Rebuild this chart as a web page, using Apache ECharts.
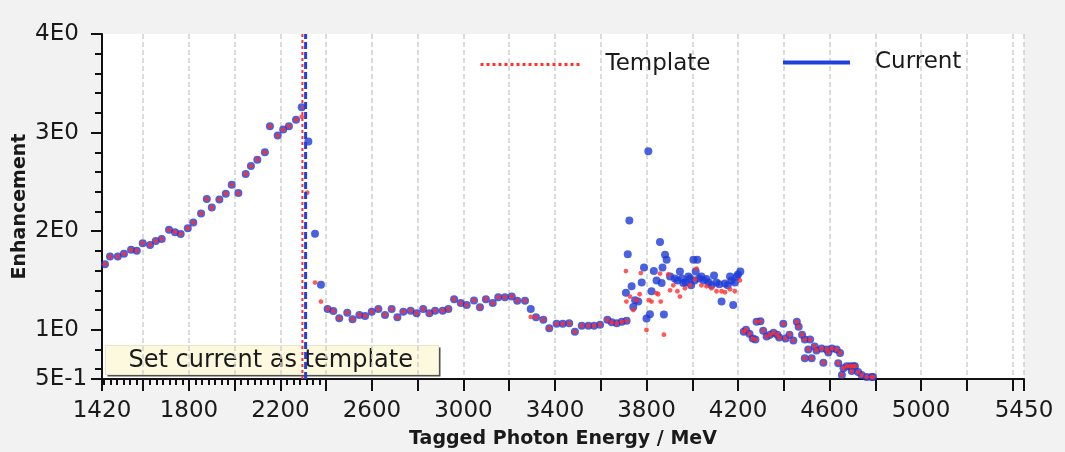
<!DOCTYPE html>
<html>
<head>
<meta charset="utf-8">
<script src="https://cdn.jsdelivr.net/npm/echarts@6/dist/echarts.min.js"></script>
<style>
html,body{margin:0;padding:0;background:#f2f2f2;}
#chart{width:1065px;height:452px;}
</style>
</head>
<body>
<div id="chart"></div>
<script>
// ---- data ----
// points where Template and Current coincide
var sharedEnergy = [1433,1455,1489,1516,1547,1572,1598,1630,1655,1681,1713,1739,1764,1795,1819,1853,1878,1900,1933,1961,1987,2016,2048,2071,2099,2132,2154,2188,2212,2237,2268,
  2406,2431,2457,2492,2515,2545,2570,2599,2628,2657,2686,2711,2737,2769,2795,2824,2851,2876,2909,2934,2959,2988,3014,3046,3072,3098,3128,3152,3181,3211,3235,3269,
  3317,3349,3375,3407,3434,3462,3487,3517,3546,3571,3597,3629,3648,3670,3692,3713,
  4225,4235,4250,4264,4276,4281,4298,4310,4325,4340,4355,4372,4380,4398,4408,4425,4442,4457,4465,4480,4492,4492,4507,4515,4522,4535,4543,4565,4573,4588,4595,4610,4631,4638,4646,4654,4661,4675,4690,4697,4704,4711,4725,4740,4762,4784,4790];
var sharedValue = [1.665,1.742,1.742,1.77,1.81,1.80,1.878,1.86,1.90,1.92,2.013,1.99,1.97,2.03,2.087,2.18,2.325,2.24,2.32,2.38,2.47,2.386,2.58,2.66,2.725,2.80,3.063,2.97,3.03,3.063,3.13,
  1.21,1.19,1.116,1.173,1.106,1.15,1.14,1.183,1.21,1.15,1.21,1.126,1.183,1.193,1.167,1.21,1.167,1.193,1.193,1.21,1.31,1.27,1.25,1.296,1.228,1.31,1.27,1.33,1.33,1.337,1.293,1.293,
  1.126,1.10,1.015,1.06,1.06,1.065,0.98,1.04,1.04,1.04,1.05,1.10,1.075,1.065,1.08,1.09,
  0.98,1.0,0.96,0.91,0.90,1.08,1.085,0.99,0.93,0.95,0.97,0.95,0.92,1.06,0.91,0.95,0.89,1.08,1.03,0.95,0.90,0.71,0.80,0.90,0.71,0.83,0.79,0.81,0.665,0.80,0.77,0.81,0.80,0.66,0.765,0.54,0.61,0.63,0.63,0.58,0.63,0.63,0.57,0.54,0.52,0.52,0.52];
// Current-only points
var currentEnergy = [2293,2322,2351,2377,3294,
  3710,3718,3725,3735,3742,3750,3764,3779,3789,3800,3808,3815,3822,3832,3844,3859,3866,3870,3876,3881,3888,3903,3924,3935,3946,3955,3961,3972,3983,3990,3995,4005,4010,4015,4022,4030,4040,4050,4062,4072,4084,4095,4106,4118,4128,4143,4155,4165,4172,4179,4186,4194,4200,4210];
var currentValue = [3.256,2.91,1.973,1.455,1.21,
  1.375,1.766,2.108,1.44,1.23,1.30,1.285,1.48,1.63,1.115,2.81,1.157,1.39,1.595,1.50,1.89,1.473,1.63,1.155,1.76,1.71,1.54,1.52,1.50,1.59,1.52,1.473,1.48,1.54,1.52,1.45,1.71,1.50,1.59,1.71,1.52,1.54,1.50,1.515,1.48,1.45,1.55,1.48,1.46,1.285,1.47,1.45,1.54,1.50,1.25,1.48,1.54,1.56,1.59];
// Template-only points
var templateEnergy = [2293,2317,2351,2377,3294,
  3710,3712,3728,3742,3757,3770,3775,3800,3811,3822,3844,3851,3859,3862,3876,3895,3903,3917,3935,3946,3968,3990,4012,4019,4040,4062,4084,4106,4128,4143,4165,4186,4208];
var templateValue = [3.16,2.39,1.478,1.285,1.13,
  1.595,1.285,1.336,1.20,1.30,1.36,1.575,0.998,1.30,1.285,1.37,1.36,1.57,1.285,0.95,1.56,1.40,1.45,1.39,1.336,1.42,1.45,1.51,1.62,1.45,1.44,1.42,1.39,1.39,1.38,1.41,1.39,1.50];
// edge markers (MeV)
var templateEdge = 2296;
var currentEdge = 2310;
// axes
var xMajorTicks = [1420,1600,1800,2000,2200,2400,2600,2800,3000,3200,3400,3600,3800,4000,4200,4400,4600,4800,5000,5200,5400,5450];
var xLabelValues = [1420,1800,2200,2600,3000,3400,3800,4200,4600,5000,5450];
var yLabelValues = [0.5,1,2,3,4];
var yLabelTexts = ['5E-1','1E0','2E0','3E0','4E0'];
var yMajorTicks = [0.5,1,2,3,4];
var yMinorTicks = [0.6,0.8,1.2,1.4,1.6,1.8,2.2,2.4,2.6,2.8,3.2,3.4,3.6,3.8];

// ---- build ----
function zip(a,b){var r=[];for(var i=0;i<a.length;i++)r.push([a[i],b[i]]);return r;}
var currentPts = zip(sharedEnergy,sharedValue).concat(zip(currentEnergy,currentValue));
var templatePts = zip(sharedEnergy,sharedValue).concat(zip(templateEnergy,templateValue));
var xMinorTicks = [];
for (var k=-6;k<=27;k++){ if(k%7!==0){ var v=1600+k*200/7; if(v>1420&&v<5450) xMinorTicks.push(+v.toFixed(3)); } }

var FONT='DejaVu Sans';
var black='#111';
var txt='#1a1a1a';
var hiddenSym={color:'rgba(0,0,0,0)',borderColor:'rgba(0,0,0,0)',borderWidth:0,opacity:0};
var chart = echarts.init(document.getElementById('chart'), null, {renderer:'canvas'});
chart.setOption({
  animation:false,
  backgroundColor:'#f2f2f2',
  textStyle:{fontFamily:FONT},
  grid:{left:102,right:41,top:34,bottom:73,show:true,backgroundColor:'#ffffff',borderWidth:0,
        containLabel:false,outerBoundsMode:'none'},
  legend:[
    {data:['Template'],left:479,top:53,padding:0,itemWidth:99,itemHeight:14,
     textStyle:{fontFamily:FONT,fontSize:23,color:txt,padding:[0,0,0,21]},
     itemStyle:hiddenSym,
     lineStyle:{color:'#ff3030',width:3,type:[3,3]},selectedMode:false},
    {data:['Current'],left:781,top:51,padding:0,itemWidth:67,itemHeight:14,
     textStyle:{fontFamily:FONT,fontSize:23,color:txt,padding:[0,0,0,20]},
     itemStyle:hiddenSym,
     lineStyle:{color:'#2040d8',width:4,type:'solid'},selectedMode:false}
  ],
  xAxis:[
    {type:'value',min:1420,max:5450,position:'bottom',
     name:'Tagged Photon Energy / MeV',nameLocation:'middle',nameGap:51,
     nameTextStyle:{fontFamily:FONT,fontSize:19,fontWeight:'bold',color:txt},
     axisLine:{show:true,onZero:false,lineStyle:{color:black,width:2}},
     axisTick:{show:true,inside:false,length:12,customValues:xMajorTicks,lineStyle:{color:black,width:2}},
     axisLabel:{show:true,customValues:xLabelValues,fontFamily:FONT,fontSize:23,color:txt,margin:21,
       formatter:function(v){return String(v);}},
     splitLine:{show:true,lineStyle:{color:'#cfcfcf',width:1.5,type:[5,3]}}},
    {type:'value',min:1420,max:5450,position:'bottom',
     axisLine:{show:false},
     axisTick:{show:true,length:6,customValues:xMinorTicks,lineStyle:{color:black,width:2}},
     axisLabel:{show:false},splitLine:{show:false}}
  ],
  yAxis:[
    {type:'value',min:0.5,max:4,position:'left',
     name:'Enhancement',nameLocation:'middle',nameGap:72,nameRotate:90,nameMoveOverlap:false,
     nameTextStyle:{fontFamily:FONT,fontSize:19,fontWeight:'bold',color:txt},
     axisLine:{show:true,onZero:false,lineStyle:{color:black,width:2}},
     axisTick:{show:true,length:11,customValues:yMajorTicks,lineStyle:{color:black,width:2}},
     axisLabel:{show:true,customValues:yLabelValues,fontFamily:FONT,fontSize:23,color:txt,margin:67,align:'left',
       formatter:function(v){var i=yLabelValues.indexOf(v);return i>=0?yLabelTexts[i]:'';}},
     splitLine:{show:false}},
    {type:'value',min:0.5,max:4,position:'left',
     axisLine:{show:false},
     axisTick:{show:true,length:7,customValues:yMinorTicks,lineStyle:{color:black,width:2}},
     axisLabel:{show:false},splitLine:{show:false}}
  ],
  series:[
    {name:'CurrentPts',type:'scatter',data:currentPts,symbol:'circle',symbolSize:8,
     itemStyle:{color:'#1d3bd6'},z:3,silent:true},
    {name:'TemplatePts',type:'scatter',data:templatePts,symbol:'circle',symbolSize:4.8,
     itemStyle:{color:'#ff3030'},z:4,silent:true},
    {name:'Template',type:'line',data:[[templateEdge,0.5],[templateEdge,4]],symbol:'none',
     itemStyle:{color:'#ff3030'},
     lineStyle:{color:'#ff3030',width:2,type:[3,3]},z:5,silent:true},
    {name:'Current',type:'line',data:[[currentEdge,0.5],[currentEdge,4]],symbol:'none',
     itemStyle:{color:'#2040d8'},
     lineStyle:{color:'#2040d8',width:3,type:[7,3]},z:5,silent:true}
  ],
  graphic:[
    {type:'group',left:105,top:345,z:100,children:[
      {type:'rect',shape:{x:2,y:2,width:333,height:29},style:{fill:'#505050'}},
      {type:'rect',shape:{x:0,y:0,width:333,height:29},style:{fill:'#fdf9df',stroke:'#e8e4c8',lineWidth:1}},
      {type:'text',x:23,y:15,style:{text:'Set current as template',fontFamily:FONT,fontSize:24,fill:txt,verticalAlign:'middle',align:'left'}}
    ]}
  ]
});
</script>
</body>
</html>
